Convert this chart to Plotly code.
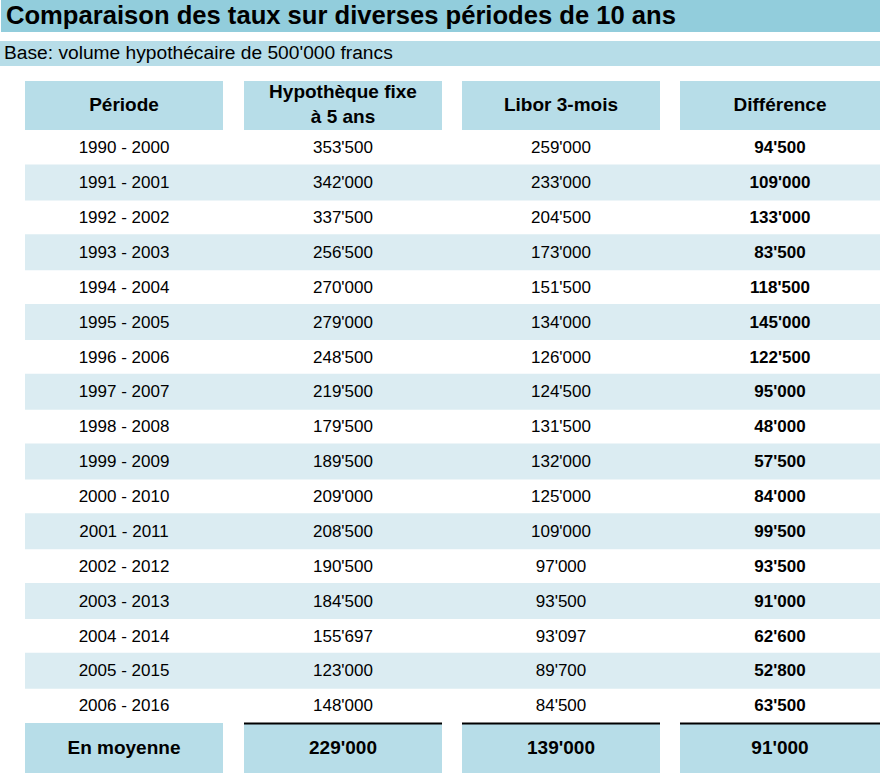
"""Comparaison des taux sur diverses périodes de 10 ans — table drawn with Plotly."""
import plotly.graph_objects as go

periods = ["1990 - 2000", "1991 - 2001", "1992 - 2002", "1993 - 2003", "1994 - 2004",
           "1995 - 2005", "1996 - 2006", "1997 - 2007", "1998 - 2008", "1999 - 2009",
           "2000 - 2010", "2001 - 2011", "2002 - 2012", "2003 - 2013", "2004 - 2014",
           "2005 - 2015", "2006 - 2016"]
fixe_5ans = [353500, 342000, 337500, 256500, 270000, 279000, 248500, 219500, 179500,
             189500, 209000, 208500, 190500, 184500, 155697, 123000, 148000]
libor_3m = [259000, 233000, 204500, 173000, 151500, 134000, 126000, 124500, 131500,
            132000, 125000, 109000, 97000, 93500, 93097, 89700, 84500]
difference = [94500, 109000, 133000, 83500, 118500, 145000, 122500, 95000, 48000,
              57500, 84000, 99500, 93500, 91000, 62600, 52800, 63500]
headers = ["Période", "Hypothèque fixe<br>à 5 ans", "Libor 3-mois", "Différence"]
avg_label = "En moyenne"
averages = [229000, 139000, 91000]

TITLE = "Comparaison des taux sur diverses périodes de 10 ans"
SUBTITLE = "Base: volume hypothécaire de 500'000 francs"

W, H = 880, 773
C_TITLE = "#92cddc"
C_HEAD = "#b7dde8"
C_BAND = "#dbecf2"
FONT = "Liberation Sans, Arial, sans-serif"

cols = [(25, 223), (244, 442), (462, 660), (680, 880)]
centers = [(a + b) / 2 for a, b in cols]
ROW0, ROWH = 147, 34.875
ys = [ROW0 + i * ROWH for i in range(len(periods))]
AVG_Y = 747
DY = 2  # text baseline nudge


def fmt(v):
    return f"{v:,}".replace(",", "'")


fig = go.Figure()
shapes = [
    dict(type="rect", x0=1, x1=W, y0=0, y1=32, fillcolor=C_TITLE, line_width=0, layer="below"),
    dict(type="rect", x0=0, x1=W, y0=41, y1=66, fillcolor=C_HEAD, line_width=0, layer="below"),
]
for a, b in cols:
    shapes.append(dict(type="rect", x0=a, x1=b, y0=81, y1=130, fillcolor=C_HEAD,
                       line_width=0, layer="below"))
    shapes.append(dict(type="rect", x0=a, x1=b, y0=723, y1=H, fillcolor=C_HEAD,
                       line_width=0, layer="below"))
for a, b in cols[1:]:
    shapes.append(dict(type="line", x0=a, x1=b, y0=723.5, y1=723.5,
                       line=dict(color="black", width=2)))
for i, y in enumerate(ys):
    if i % 2 == 1:
        shapes.append(dict(type="rect", x0=25, x1=W, y0=y - 17.5, y1=y + 18.5,
                           fillcolor=C_BAND, line_width=0, layer="below"))

fig.add_trace(go.Scatter(x=[6], y=[18], mode="text", text=[TITLE], textposition="middle right",
                         textfont=dict(family=FONT, size=25.6, color="black", weight="bold")))
fig.add_trace(go.Scatter(x=[4], y=[54.5], mode="text", text=[SUBTITLE], textposition="middle right",
                         textfont=dict(family=FONT, size=19.2, color="black")))
fig.add_trace(go.Scatter(x=centers, y=[106] * 4, mode="text", text=headers,
                         textfont=dict(family=FONT, size=19, color="black", weight="bold")))

body = [periods, [fmt(v) for v in fixe_5ans], [fmt(v) for v in libor_3m], [fmt(v) for v in difference]]
for j, col in enumerate(body):
    fig.add_trace(go.Scatter(x=[centers[j]] * len(col), y=[y + DY for y in ys], mode="text",
                             text=col,
                             textfont=dict(family=FONT, size=17, color="black",
                                           weight="bold" if j == 3 else "normal")))

fig.add_trace(go.Scatter(x=centers, y=[AVG_Y + DY] * 4, mode="text",
                         text=[avg_label] + [fmt(v) for v in averages],
                         textfont=dict(family=FONT, size=19, color="black", weight="bold")))

fig.update_layout(
    width=W, height=H, margin=dict(l=0, r=0, t=0, b=0),
    paper_bgcolor="white", plot_bgcolor="white", showlegend=False, shapes=shapes,
    xaxis=dict(range=[0, W], visible=False, fixedrange=True),
    yaxis=dict(range=[H, 0], visible=False, fixedrange=True),
)
fig.update_traces(hoverinfo="skip", cliponaxis=False)
fig.write_html("out.html", config={"displayModeBar": False},
               post_script="document.body.style.margin='0';document.body.style.overflow='hidden';")
